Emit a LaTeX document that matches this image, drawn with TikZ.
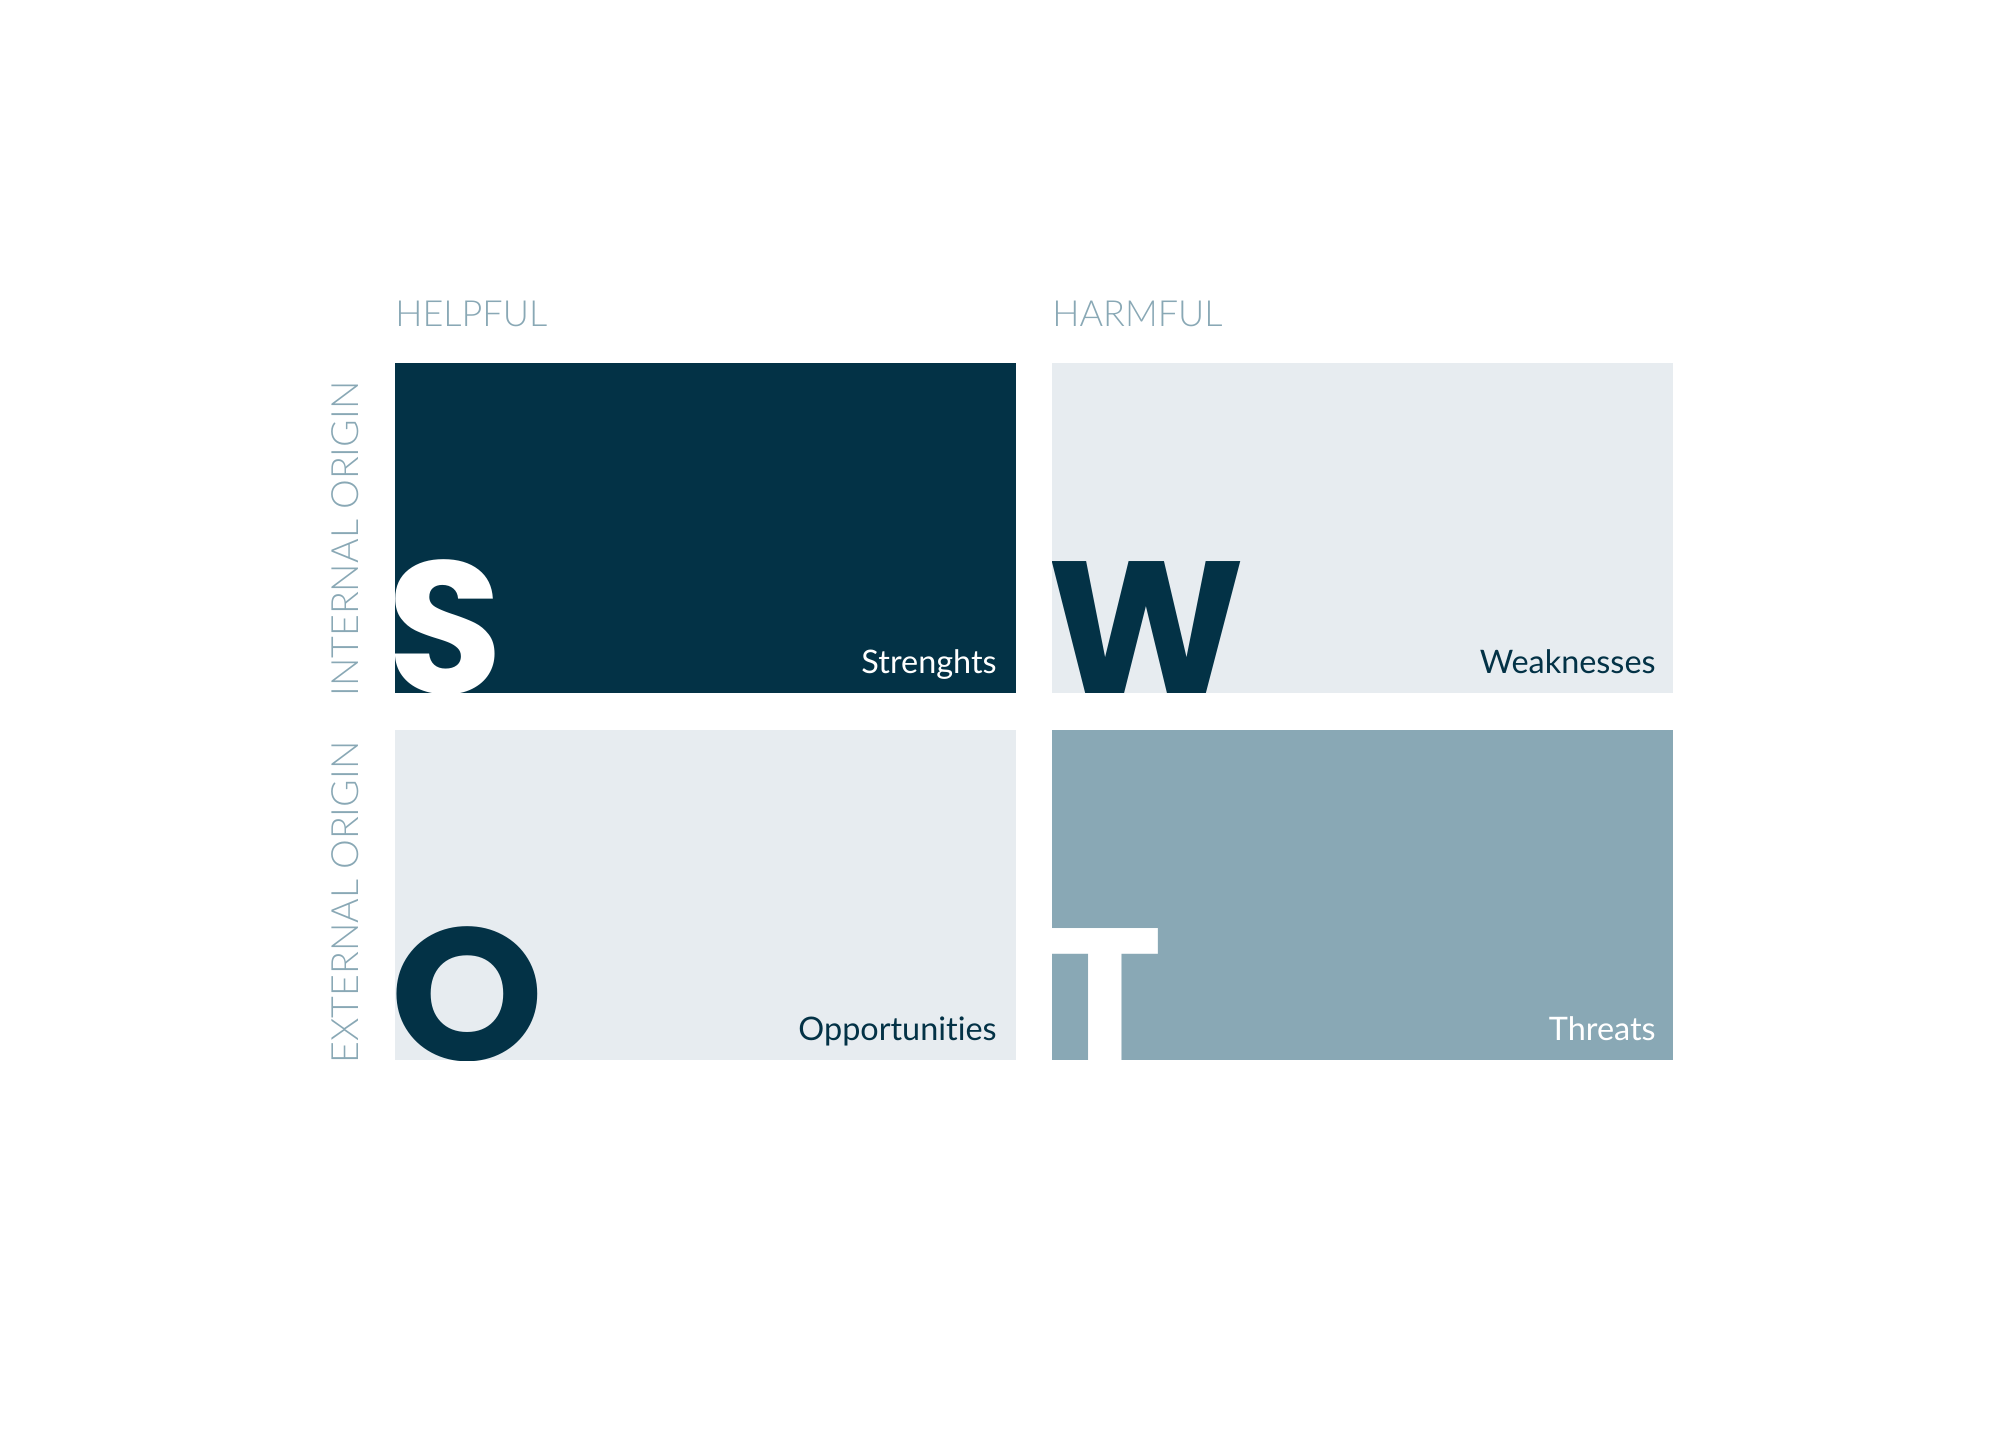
\documentclass[tikz,border=0pt]{standalone}
\usepackage{fontspec}
\setmainfont{Lato}[Ligatures=NoCommon]
\newfontfamily\lightfont{Lato}[UprightFont={* Light},Ligatures=NoCommon]
\newfontfamily\bigfont{Poppins}
\definecolor{navy}{HTML}{033246}
\definecolor{pale}{HTML}{E7ECF0}
\definecolor{mid}{HTML}{89A8B5}
\begin{document}
\begin{tikzpicture}[x=0.5pt,y=-0.5pt,
  quad/.style={draw=none, inner sep=0, outer sep=0, anchor=north west,
    minimum width=310.5pt, minimum height=165pt},
  biglet/.style={font=\bigfont\bfseries\fontsize{94}{94}\selectfont, inner sep=0, outer sep=0, anchor=base west},
  boxlabel/.style={font=\fontsize{16.2}{19}\selectfont, inner sep=0, anchor=base east},
  header/.style={font=\lightfont\fontsize{18}{21}\selectfont, text=mid, inner sep=0, anchor=base west},
  side/.style={header, font=\lightfont\fontsize{18.8}{22}\selectfont, rotate=90}]
\useasboundingbox (0,0) rectangle (2000,1449);
\node[quad, fill=navy] (S) at (395,363) {};
\node[quad, fill=pale] (W) at (1052,363) {};
\node[quad, fill=pale] (O) at (395,730) {};
\node[quad, fill=mid]  (T) at (1052,730) {};
\begin{scope}
  \clip (S.south west) rectangle (S.north east);
  \node[biglet, text=white, xshift=-3.8pt] (Sl) at (S.south west) {S};
\end{scope}
\begin{scope}
  \clip (W.south west) rectangle (W.north east);
  \node[biglet, text=navy, xshift=-2.5pt] (Wl) at (W.south west) {W};
\end{scope}
\begin{scope}
  \clip (O.south west) rectangle (O.north east);
  \node[biglet, text=navy, xshift=-2.5pt, xscale=1.04] (Ol) at (O.south west) {O};
\end{scope}
\begin{scope}
  \clip (T.south west) rectangle (T.north east);
  \node[biglet, text=white, xshift=-2.2pt, xscale=1.04] (Tl) at (T.south west) {T};
\end{scope}
\node[boxlabel, text=white] (Slab) at (997,673) {Strenghts};
\node[boxlabel, text=navy] (Wlab) at (1656,673) {Weaknesses};
\node[boxlabel, text=navy] (Olab) at (997,1040) {Opportunities};
\node[boxlabel, text=white] (Tlab) at (1656,1040) {Threats};
\node[header] (help) at (395,327) {HELPFUL};
\node[header] (harm) at (1052,327) {HARMFUL};
\node[side] (int) at (358,697) {INTERNAL ORIGIN};
\node[side] (ext) at (358,1064) {EXTERNAL ORIGIN};
\end{tikzpicture}
\end{document}
